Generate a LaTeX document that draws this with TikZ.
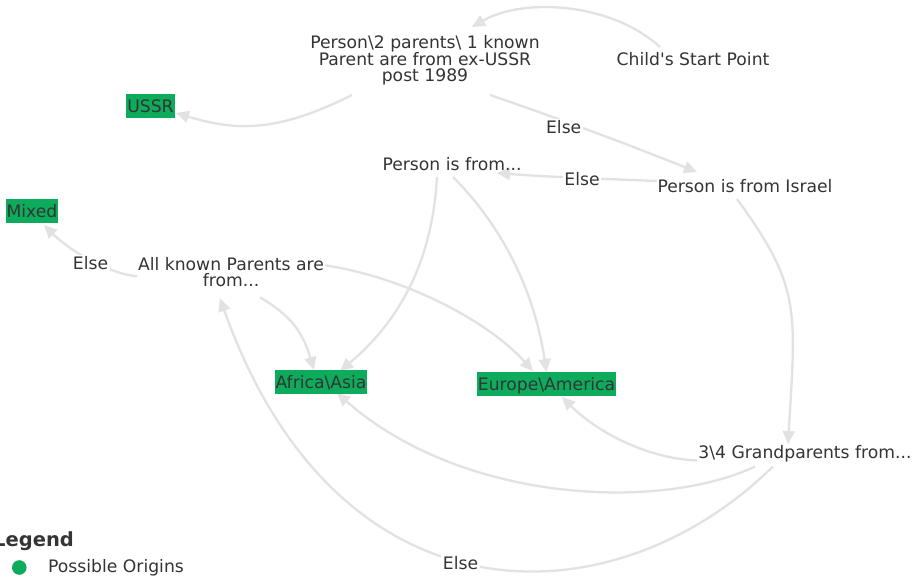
\documentclass[tikz,border=0pt]{standalone}
\usepackage{fontspec}
\setmainfont{DejaVu Sans}[Ligatures=TeXOff]
\usetikzlibrary{arrows.meta,calc}
\definecolor{txt}{HTML}{343434}
\definecolor{edgec}{RGB}{226,226,226}
\definecolor{origin}{RGB}{12,172,92}
\pgfdeclarelayer{bg}
\pgfsetlayers{bg,main}
\begin{document}
\begin{tikzpicture}[x=1pt,y=-1pt,
  every node/.style={font=\fontsize{17.2}{15.5}\selectfont, text=txt},
  lbl/.style={text height=12.5pt,text depth=0pt,inner sep=2pt},
  multi/.style={align=center,inner sep=2pt},
  originbox/.style={fill=origin,text height=12.5pt,text depth=0pt,minimum height=24pt,inner xsep=1pt,inner ysep=0pt},
  elabel/.style={fill=white,text height=12.5pt,text depth=0pt,inner sep=1.5pt},
  edge/.style={draw=edgec,line width=2.3pt,-{Triangle[length=13pt,width=12pt]}}]
\useasboundingbox (0,0) rectangle (923,580);

% nodes
\node[lbl] (S) at (693,59) {Child's Start Point};
\node[multi] (P) at (425,60) {Person\textbackslash 2 parents\textbackslash{} 1 known\\Parent are from ex-USSR\\post 1989};
\node[originbox] (U) at (150.5,106) {USSR};
\node[originbox] (M) at (32,211) {Mixed};
\node[lbl] (F) at (452,164) {Person is from...};
\node[lbl] (I) at (745,186) {Person is from Israel};
\node[multi] (A) at (231,272.3) {All known Parents are\\from...};
\node[originbox] (AF) at (321,382) {Africa\textbackslash Asia};
\node[originbox] (EU) at (546.5,384) {Europe\textbackslash America};
\node[lbl] (G) at (805,452.5) {3\textbackslash 4 Grandparents from...};

% edges (behind the nodes)
\begin{pgfonlayer}{bg}
\fill[white] (0,0) rectangle (923,580);
\draw[edge] ($(S)+(-33,-12)$) .. controls +(-48,-44) and +(52,-30) .. ($(P)+(47,-33)$);
\draw[edge] ($(P)+(-73,35)$) .. controls +(-76,38) and +(60,18) .. ($(U)+(25.5,7)$);
\draw[edge] ($(P)+(65,35)$) .. controls +(70,24) and +(-70,-28) .. ($(I)+(-48,-14)$);
\draw[edge] ($(I)+(-88,-5)$) .. controls +(-50,-2) and +(50,4) .. ($(F)+(45,9)$);
\draw[edge] ($(I)+(-8,13)$) .. controls +(64,88) and +(8,-135) .. ($(G)+(-17,-8.5)$);
\draw[edge] ($(F)+(-15,13)$) .. controls +(-5,90) and +(55,-46) .. ($(AF)+(19,-11)$);
\draw[edge] ($(F)+(1,13)$) .. controls +(50,50) and +(-12,-80) .. ($(EU)+(0,-12)$);
\draw[edge] ($(A)+(-94,4)$) .. controls +(-30,-3) and +(25,25) .. ($(M)+(12,14)$);
\draw[edge] ($(A)+(29,25)$) .. controls +(30,18) and +(-12,-40) .. ($(AF)+(-7,-12)$);
\draw[edge] ($(A)+(94,-7)$) .. controls +(80,12) and +(-45,-50) .. ($(EU)+(-13.5,-13)$);
\draw[edge] ($(G)+(-108,8)$) .. controls +(-50,-2) and +(35,35) .. ($(EU)+(15.5,13)$);
\draw[edge] ($(G)+(-50,14)$) .. controls +(-95,45) and +(125,110) .. ($(AF)+(16,11)$);
\draw[edge] ($(G)+(-32,14)$) .. controls +(-161,158) and +(117,330) .. ($(A)+(-11,26)$);
\end{pgfonlayer}

% edge labels
\node[elabel] (e1) at (563.7,127) {Else};
\node[elabel] (e2) at (582,179) {Else};
\node[elabel] (e3) at (90.5,263) {Else};
\node[elabel] (e4) at (460.5,563) {Else};

% legend
\node[anchor=base west,inner sep=0pt,font=\fontsize{19.5}{20}\selectfont\bfseries] (leg) at (-7,546.7) {Legend};
\fill[origin] (19.3,567.5) circle[radius=7.3pt];
\node[lbl,anchor=west,inner sep=0pt] (lego) at (48,566.7) {Possible Origins};
\end{tikzpicture}
\end{document}
